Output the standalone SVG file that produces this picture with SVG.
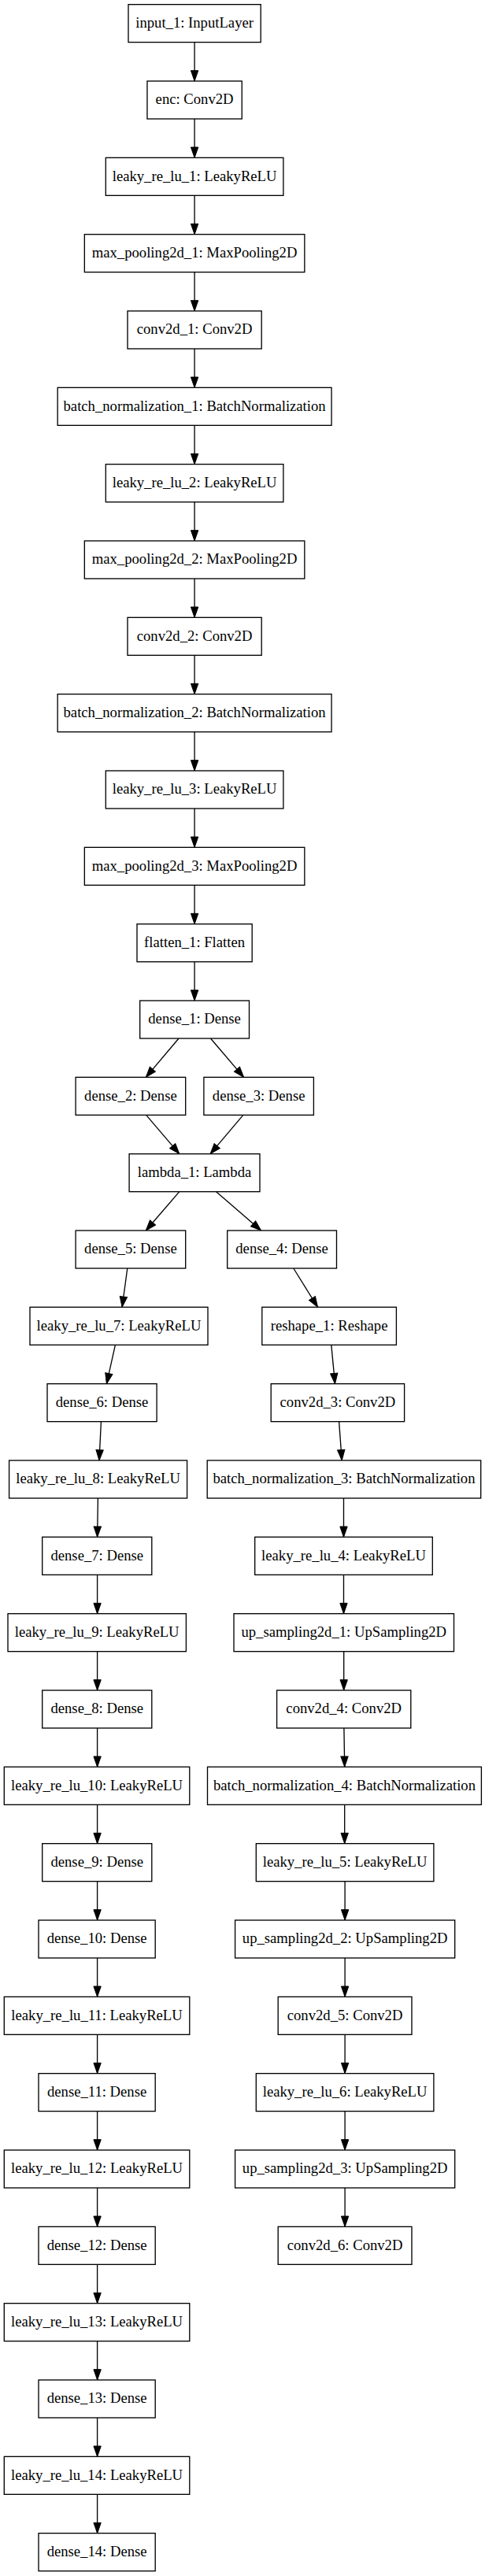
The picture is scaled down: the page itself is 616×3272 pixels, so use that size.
<svg xmlns="http://www.w3.org/2000/svg" width="616" height="3272" viewBox="0 0 616 3272">
<defs>
<style>
rect{fill:#fff;stroke:#000;stroke-width:1.33}
text{font-family:"Liberation Serif","Times New Roman",serif;font-size:18.67px;fill:#000;text-anchor:middle}
#edges path{fill:none;stroke:#000;stroke-width:1.33;marker-end:url(#arr)}
</style>
<marker id="arr" markerUnits="userSpaceOnUse" markerWidth="16" markerHeight="12" refX="13.33" refY="4.67" orient="auto" overflow="visible">
<path d="M0,0 L13.33,4.67 L0,9.33 z" fill="#000" stroke="#000" stroke-width="1"/>
</marker>
</defs>
<rect x="0" y="0" width="616" height="3272" style="fill:#fff;stroke:none"/>
<g id="edges">
<path d="M247.1,53.67 L247.1,103"/>
<path d="M247.1,151 L247.1,200.33"/>
<path d="M247.1,248.33 L247.1,297.67"/>
<path d="M247.1,345.67 L247.1,395"/>
<path d="M247.1,443 L247.1,492.33"/>
<path d="M247.1,540.33 L247.1,589.67"/>
<path d="M247.1,637.67 L247.1,687"/>
<path d="M247.1,735 L247.1,784.33"/>
<path d="M247.1,832.33 L247.1,881.67"/>
<path d="M247.1,929.67 L247.1,979"/>
<path d="M247.1,1027 L247.1,1076.33"/>
<path d="M247.1,1124.33 L247.1,1173.67"/>
<path d="M247.1,1221.67 L247.1,1271"/>
<path d="M227,1319 L185.3,1368.33"/>
<path d="M267.5,1319 L309.6,1368.33"/>
<path d="M185.7,1416.33 L227.8,1465.67"/>
<path d="M308.8,1416.33 L267.1,1465.67"/>
<path d="M227.8,1513.67 L185.3,1563"/>
<path d="M274.6,1513.67 L331.6,1563"/>
<path d="M161.8,1611 L155.1,1660.33"/>
<path d="M372.8,1611 L403.5,1660.33"/>
<path d="M146.4,1708.33 L135.4,1757.67"/>
<path d="M420.8,1708.33 L425.5,1757.67"/>
<path d="M128.4,1805.67 L126,1855"/>
<path d="M430.6,1805.67 L434.2,1855"/>
<path d="M124.4,1903 L123.6,1952.33"/>
<path d="M436.5,1903 L436.5,1952.33"/>
<path d="M123.6,2000.33 L123.6,2049.67"/>
<path d="M436.5,2000.33 L436.5,2049.67"/>
<path d="M123.6,2097.67 L123.6,2147"/>
<path d="M436.7,2097.67 L436.7,2147"/>
<path d="M123.6,2195 L123.6,2244.33"/>
<path d="M436.9,2195 L437.7,2244.33"/>
<path d="M123.6,2292.33 L123.6,2341.67"/>
<path d="M437.7,2292.33 L437.7,2341.67"/>
<path d="M123.6,2389.67 L123.6,2439"/>
<path d="M438.1,2389.67 L438.1,2439"/>
<path d="M123.6,2487 L123.6,2536.33"/>
<path d="M438.1,2487 L438.1,2536.33"/>
<path d="M123.6,2584.33 L123.6,2633.67"/>
<path d="M438.1,2584.33 L438.1,2633.67"/>
<path d="M123.6,2681.67 L123.6,2731"/>
<path d="M438.1,2681.67 L438.1,2731"/>
<path d="M123.6,2779 L123.6,2828.33"/>
<path d="M438.1,2779 L438.1,2828.33"/>
<path d="M123.6,2876.33 L123.6,2925.67"/>
<path d="M123.6,2973.67 L123.6,3023"/>
<path d="M123.6,3071 L123.6,3120.33"/>
<path d="M123.6,3168.33 L123.6,3217.67"/>
</g>
<g id="input_1"><rect x="163" y="5.67" width="168.2" height="48"/><text x="247.1" y="35">input_1: InputLayer</text></g>
<g id="enc"><rect x="186.95" y="103" width="120.3" height="48"/><text x="247.1" y="132.3">enc: Conv2D</text></g>
<g id="leaky_re_lu_1"><rect x="134.3" y="200.33" width="225.6" height="48"/><text x="247.1" y="229.6">leaky_re_lu_1: LeakyReLU</text></g>
<g id="max_pooling2d_1"><rect x="107.35" y="297.67" width="279.5" height="48"/><text x="247.1" y="327">max_pooling2d_1: MaxPooling2D</text></g>
<g id="conv2d_1"><rect x="162" y="395" width="170.2" height="48"/><text x="247.1" y="424.3">conv2d_1: Conv2D</text></g>
<g id="batch_normalization_1"><rect x="73.15" y="492.33" width="347.9" height="48"/><text x="247.1" y="521.6">batch_normalization_1: BatchNormalization</text></g>
<g id="leaky_re_lu_2"><rect x="134.3" y="589.67" width="225.6" height="48"/><text x="247.1" y="619">leaky_re_lu_2: LeakyReLU</text></g>
<g id="max_pooling2d_2"><rect x="107.35" y="687" width="279.5" height="48"/><text x="247.1" y="716.3">max_pooling2d_2: MaxPooling2D</text></g>
<g id="conv2d_2"><rect x="162" y="784.33" width="170.2" height="48"/><text x="247.1" y="813.6">conv2d_2: Conv2D</text></g>
<g id="batch_normalization_2"><rect x="73.15" y="881.67" width="347.9" height="48"/><text x="247.1" y="911">batch_normalization_2: BatchNormalization</text></g>
<g id="leaky_re_lu_3"><rect x="134.3" y="979" width="225.6" height="48"/><text x="247.1" y="1008.3">leaky_re_lu_3: LeakyReLU</text></g>
<g id="max_pooling2d_3"><rect x="107.35" y="1076.33" width="279.5" height="48"/><text x="247.1" y="1105.6">max_pooling2d_3: MaxPooling2D</text></g>
<g id="flatten_1"><rect x="174" y="1173.67" width="146.2" height="48"/><text x="247.1" y="1203">flatten_1: Flatten</text></g>
<g id="dense_1"><rect x="177.7" y="1271" width="138.8" height="48"/><text x="247.1" y="1300.3">dense_1: Dense</text></g>
<g id="dense_2"><rect x="96.1" y="1368.33" width="139.6" height="48"/><text x="165.9" y="1397.6">dense_2: Dense</text></g>
<g id="dense_3"><rect x="258.9" y="1368.33" width="139.5" height="48"/><text x="328.65" y="1397.6">dense_3: Dense</text></g>
<g id="lambda_1"><rect x="164.1" y="1465.67" width="165.9" height="48"/><text x="247.05" y="1495">lambda_1: Lambda</text></g>
<g id="dense_5"><rect x="96.1" y="1563" width="139.6" height="48"/><text x="165.9" y="1592.3">dense_5: Dense</text></g>
<g id="dense_4"><rect x="288.7" y="1563" width="138.8" height="48"/><text x="358.1" y="1592.3">dense_4: Dense</text></g>
<g id="leaky_re_lu_7"><rect x="38" y="1660.33" width="226" height="48"/><text x="151" y="1689.6">leaky_re_lu_7: LeakyReLU</text></g>
<g id="reshape_1"><rect x="332.8" y="1660.33" width="170.6" height="48"/><text x="418.1" y="1689.6">reshape_1: Reshape</text></g>
<g id="dense_6"><rect x="60" y="1757.67" width="139.1" height="48"/><text x="129.55" y="1787">dense_6: Dense</text></g>
<g id="conv2d_3"><rect x="344.2" y="1757.67" width="169.4" height="48"/><text x="428.9" y="1787">conv2d_3: Conv2D</text></g>
<g id="leaky_re_lu_8"><rect x="11.6" y="1855" width="226" height="48"/><text x="124.6" y="1884.3">leaky_re_lu_8: LeakyReLU</text></g>
<g id="batch_normalization_3"><rect x="263.2" y="1855" width="347.5" height="48"/><text x="436.95" y="1884.3">batch_normalization_3: BatchNormalization</text></g>
<g id="dense_7"><rect x="53.7" y="1952.33" width="139.1" height="48"/><text x="123.25" y="1981.6">dense_7: Dense</text></g>
<g id="leaky_re_lu_4"><rect x="323.7" y="1952.33" width="225.6" height="48"/><text x="436.5" y="1981.6">leaky_re_lu_4: LeakyReLU</text></g>
<g id="leaky_re_lu_9"><rect x="10" y="2049.67" width="226.4" height="48"/><text x="123.2" y="2079">leaky_re_lu_9: LeakyReLU</text></g>
<g id="up_sampling2d_1"><rect x="297" y="2049.67" width="279.5" height="48"/><text x="436.75" y="2079">up_sampling2d_1: UpSampling2D</text></g>
<g id="dense_8"><rect x="53.7" y="2147" width="139.1" height="48"/><text x="123.25" y="2176.3">dense_8: Dense</text></g>
<g id="conv2d_4"><rect x="351.6" y="2147" width="170.2" height="48"/><text x="436.7" y="2176.3">conv2d_4: Conv2D</text></g>
<g id="leaky_re_lu_10"><rect x="5.3" y="2244.33" width="235.5" height="48"/><text x="123.05" y="2273.6">leaky_re_lu_10: LeakyReLU</text></g>
<g id="batch_normalization_4"><rect x="263.5" y="2244.33" width="347.9" height="48"/><text x="437.45" y="2273.6">batch_normalization_4: BatchNormalization</text></g>
<g id="dense_9"><rect x="53.7" y="2341.67" width="139.1" height="48"/><text x="123.25" y="2371">dense_9: Dense</text></g>
<g id="leaky_re_lu_5"><rect x="325.3" y="2341.67" width="225.6" height="48"/><text x="438.1" y="2371">leaky_re_lu_5: LeakyReLU</text></g>
<g id="dense_10"><rect x="49" y="2439" width="148.2" height="48"/><text x="123.1" y="2468.3">dense_10: Dense</text></g>
<g id="up_sampling2d_2"><rect x="298.6" y="2439" width="279.1" height="48"/><text x="438.15" y="2468.3">up_sampling2d_2: UpSampling2D</text></g>
<g id="leaky_re_lu_11"><rect x="5.3" y="2536.33" width="235.5" height="48"/><text x="123.05" y="2565.6">leaky_re_lu_11: LeakyReLU</text></g>
<g id="conv2d_5"><rect x="353.2" y="2536.33" width="169.8" height="48"/><text x="438.1" y="2565.6">conv2d_5: Conv2D</text></g>
<g id="dense_11"><rect x="49" y="2633.67" width="148.2" height="48"/><text x="123.1" y="2663">dense_11: Dense</text></g>
<g id="leaky_re_lu_6"><rect x="325.3" y="2633.67" width="225.6" height="48"/><text x="438.1" y="2663">leaky_re_lu_6: LeakyReLU</text></g>
<g id="leaky_re_lu_12"><rect x="5.3" y="2731" width="235.5" height="48"/><text x="123.05" y="2760.3">leaky_re_lu_12: LeakyReLU</text></g>
<g id="up_sampling2d_3"><rect x="298.6" y="2731" width="279.1" height="48"/><text x="438.15" y="2760.3">up_sampling2d_3: UpSampling2D</text></g>
<g id="dense_12"><rect x="49" y="2828.33" width="148.2" height="48"/><text x="123.1" y="2857.6">dense_12: Dense</text></g>
<g id="conv2d_6"><rect x="353.2" y="2828.33" width="169.8" height="48"/><text x="438.1" y="2857.6">conv2d_6: Conv2D</text></g>
<g id="leaky_re_lu_13"><rect x="5.3" y="2925.67" width="235.5" height="48"/><text x="123.05" y="2955">leaky_re_lu_13: LeakyReLU</text></g>
<g id="dense_13"><rect x="49" y="3023" width="148.2" height="48"/><text x="123.1" y="3052.3">dense_13: Dense</text></g>
<g id="leaky_re_lu_14"><rect x="5.3" y="3120.33" width="235.5" height="48"/><text x="123.05" y="3149.6">leaky_re_lu_14: LeakyReLU</text></g>
<g id="dense_14"><rect x="49" y="3217.67" width="148.2" height="48"/><text x="123.1" y="3247">dense_14: Dense</text></g>
</svg>
